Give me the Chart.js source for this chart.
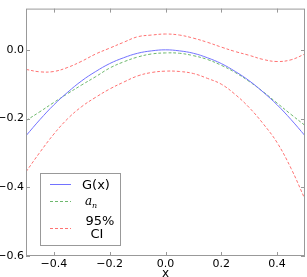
<!DOCTYPE html>
<html>
<head>
<meta charset="utf-8">
<script src="https://cdn.jsdelivr.net/npm/chart.js@4/dist/chart.umd.min.js"></script>
<style>
  html, body { margin: 0; padding: 0; background: #fff; }
  #wrap { width: 307px; height: 277px; }
</style>
</head>
<body>
<div id="wrap"><canvas id="chart" width="307" height="277"></canvas></div>
<script>
// values
const xs = [-0.5, -0.45, -0.4, -0.35, -0.3, -0.25, -0.2, -0.15, -0.1, -0.05, 0,
            0.05, 0.1, 0.15, 0.2, 0.25, 0.3, 0.35, 0.4, 0.45, 0.5];
const gVals = [-0.25, -0.203, -0.16, -0.123, -0.09, -0.063, -0.04, -0.023, -0.01, -0.003, 0,
               -0.003, -0.01, -0.023, -0.04, -0.063, -0.09, -0.123, -0.16, -0.203, -0.25];
const anVals = [-0.206, -0.18, -0.153, -0.127, -0.102, -0.078, -0.053, -0.035, -0.021, -0.012, -0.009,
                -0.01, -0.017, -0.028, -0.045, -0.066, -0.092, -0.122, -0.155, -0.188, -0.22];
const ciUpper = [-0.057, -0.064, -0.063, -0.051, -0.033, -0.012, 0.005, 0.022, 0.038, 0.043, 0.046,
                 0.043, 0.034, 0.022, 0.008, -0.005, -0.016, -0.028, -0.034, -0.029, -0.012];
const ciLower = [-0.355, -0.298, -0.245, -0.2, -0.165, -0.138, -0.114, -0.094, -0.076, -0.066, -0.062,
                 -0.063, -0.069, -0.083, -0.1, -0.13, -0.168, -0.215, -0.27, -0.345, -0.435];
const xTicks = [-0.4, -0.2, 0, 0.2, 0.4];
const yTicks = [-0.6, -0.4, -0.2, 0];

const BLUE = '#7272ff', GREEN = '#6db86d', RED = '#ff7272', AXIS = '#999';

const fmt = v => Math.abs(v) < 1e-9 ? '0.0' : v.toFixed(1).replace('-', '\u2212');
const pts = arr => xs.map((x, i) => ({ x: x, y: arr[i] }));

// box, inward ticks, axis label and legend
const frame = {
  id: 'frame',
  afterDraw(chart) {
    const ctx = chart.ctx, a = chart.chartArea;
    const sx = chart.scales.x, sy = chart.scales.y;
    ctx.save();
    ctx.strokeStyle = AXIS;
    ctx.lineWidth = 1;
    ctx.strokeRect(a.left + 0.5, a.top + 0.5, a.right - a.left - 1, a.bottom - a.top - 1);
    ctx.beginPath();
    xTicks.forEach(v => {
      const px = Math.round(sx.getPixelForValue(v)) + 0.5;
      ctx.moveTo(px, a.bottom); ctx.lineTo(px, a.bottom - 4);
      ctx.moveTo(px, a.top); ctx.lineTo(px, a.top + 4);
    });
    yTicks.forEach(v => {
      const py = Math.round(sy.getPixelForValue(v)) + 0.5;
      ctx.moveTo(a.left, py); ctx.lineTo(a.left + 4, py);
      ctx.moveTo(a.right, py); ctx.lineTo(a.right - 4, py);
    });
    ctx.stroke();

    // x axis label
    ctx.fillStyle = '#000';
    ctx.font = '12px "DejaVu Sans"';
    ctx.textAlign = 'center';
    ctx.textBaseline = 'alphabetic';
    ctx.fillText('x', (a.left + a.right) / 2, 277);

    // legend
    ctx.fillStyle = '#fff';
    ctx.fillRect(40, 173, 80, 72);
    ctx.strokeStyle = AXIS;
    ctx.strokeRect(40.5, 173.5, 80, 72);
    const sample = (y, color, dash) => {
      ctx.strokeStyle = color;
      ctx.setLineDash(dash);
      ctx.beginPath(); ctx.moveTo(50, y); ctx.lineTo(71, y); ctx.stroke();
      ctx.setLineDash([]);
    };
    sample(184.5, BLUE, []);
    sample(201.5, GREEN, [3, 2]);
    sample(228.5, RED, [3, 2]);
    ctx.fillStyle = '#000';
    ctx.textAlign = 'left';
    ctx.font = '13px "DejaVu Sans"';
    ctx.fillText('G(x)', 82, 189);
    ctx.font = 'italic 12px "DejaVu Serif"';
    ctx.fillText('a', 85, 205);
    ctx.font = 'italic 8px "DejaVu Serif"';
    ctx.fillText('n', 92, 208);
    ctx.font = '13px "DejaVu Sans"';
    ctx.textAlign = 'center';
    ctx.fillText('95%', 100, 225);
    ctx.fillText('CI', 97, 238);
    ctx.restore();
  }
};

new Chart(document.getElementById('chart'), {
  type: 'line',
  data: {
    datasets: [
      { label: 'G(x)', data: pts(gVals), borderColor: BLUE, borderWidth: 1 },
      { label: 'a_n', data: pts(anVals), borderColor: GREEN, borderWidth: 1, borderDash: [3, 2] },
      { label: '95% CI', data: pts(ciUpper), borderColor: RED, borderWidth: 1, borderDash: [3, 2] },
      { label: '95% CI lower', data: pts(ciLower), borderColor: RED, borderWidth: 1, borderDash: [3, 2] }
    ]
  },
  options: {
    responsive: false,
    animation: false,
    events: [],
    layout: { padding: { top: 1, right: 2, left: 0, bottom: 0 } },
    elements: {
      point: { radius: 0 },
      line: { tension: 0.4, fill: false }
    },
    plugins: { legend: { display: false }, tooltip: { enabled: false } },
    scales: {
      x: {
        type: 'linear',
        min: -0.5, max: 0.5,
        grid: { display: false, drawTicks: false },
        border: { display: false },
        afterBuildTicks: s => { s.ticks = xTicks.map(v => ({ value: v })); },
        afterFit: s => { s.height = 21; },
        ticks: {
          padding: 2,
          maxRotation: 0,
          color: '#000',
          font: { family: 'DejaVu Sans', size: 11 },
          callback: v => fmt(v)
        }
      },
      y: {
        type: 'linear',
        min: -0.6, max: 0.12,
        grid: { display: false, drawTicks: false },
        border: { display: false },
        afterBuildTicks: s => { s.ticks = yTicks.map(v => ({ value: v })); },
        afterFit: s => { s.width = 26; },
        ticks: {
          padding: 2,
          color: '#000',
          font: { family: 'DejaVu Sans', size: 11 },
          callback: v => fmt(v)
        }
      }
    }
  },
  plugins: [frame]
});
</script>
</body>
</html>
